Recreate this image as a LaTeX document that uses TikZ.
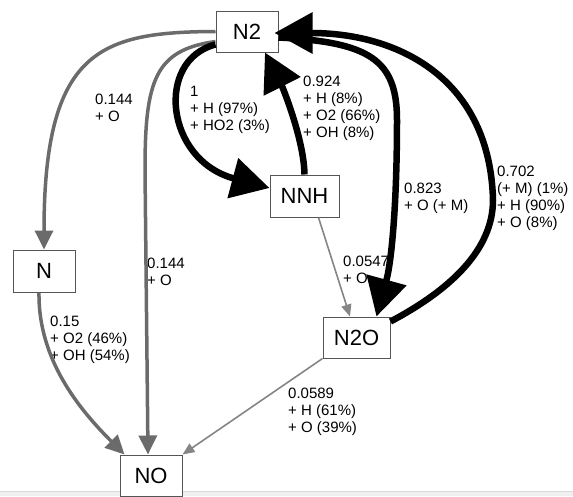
\documentclass[tikz,border=0pt]{standalone}
\usepackage{fontspec}
\setmainfont{Liberation Sans}
\usetikzlibrary{arrows.meta}
\definecolor{edgegray}{HTML}{6B6B6B}
\definecolor{thingray}{HTML}{858585}
\definecolor{boxgray}{HTML}{555555}
\definecolor{bandgray}{HTML}{F0F0F0}
\newcommand\lblstack[1]{\begin{tabular}[t]{@{}l@{}}#1\end{tabular}}
\tikzset{
  species/.style={draw=boxgray, line width=1pt, fill=white, minimum width=62pt,
    minimum height=41pt, inner sep=0pt, font=\fontsize{22}{26}\selectfont},
  lbl/.style={anchor=base west, inner sep=0pt, font=\fontsize{15}{17}\selectfont},
  major/.style={draw=black, line width=6.5pt, -{Triangle[length=38pt,width=40pt]}},
  medium/.style={draw=edgegray, line width=3.5pt, -{Triangle[length=19pt,width=18pt]}},
  minor/.style={draw=thingray, line width=1.6pt, -{Triangle[length=12pt,width=10pt]}},
}
\begin{document}
\begin{tikzpicture}[x=1pt,y=-1pt]
\useasboundingbox (0,0) rectangle (573,496);
\fill[bandgray] (0,491) rectangle (573,496);
\draw[bandgray!80!gray, line width=0.6pt] (0,491) -- (573,491);

% species
\node[species] (N2)  at (247,31.5) {N2};
\node[species, minimum width=69pt, minimum height=42pt] (NNH) at (304.5,196) {NNH};
\node[species, minimum height=42pt] (N) at (44,271) {N};
\node[species] (NO)  at (151,475.5) {NO};
\node[species, minimum width=67pt] (N2O) at (356.5,337.5) {N2O};

% labels
\node[lbl] (l1) at (95,104)  {\lblstack{0.144\\+ O}};
\node[lbl] (l2) at (190,96)  {\lblstack{1\\+ H (97\%)\\+ HO2 (3\%)}};
\node[lbl] (l3) at (303,86)  {\lblstack{0.924\\+ H (8\%)\\+ O2 (66\%)\\+ OH (8\%)}};
\node[lbl] (l4) at (404,193) {\lblstack{0.823\\+ O (+ M)}};
\node[lbl] (l5) at (497,176) {\lblstack{0.702\\(+ M) (1\%)\\+ H (90\%)\\+ O (8\%)}};
\node[lbl] (l6) at (147,268) {\lblstack{0.144\\+ O}};
\node[lbl] (l7) at (50,326)  {\lblstack{0.15\\+ O2 (46\%)\\+ OH (54\%)}};
\node[lbl] (l8) at (343,266) {\lblstack{0.0547\\+ O}};
\node[lbl] (l9) at (288,398) {\lblstack{0.0589\\+ H (61\%)\\+ O (39\%)}};

% connectors
\draw[medium] (N2.west) .. controls (100,32) and (44,50) .. (N.north);
\draw[medium] ([yshift=-10pt]N2.west) .. controls (155,50) and (145,80) .. (145,170) -- ([xshift=-3pt]NO.north);
\draw[medium] ([xshift=-5pt]N.south) .. controls (38,360) and (80,410) .. ([xshift=5pt]NO.north west);
\draw[minor] ([xshift=14pt]NNH.south) -- ([xshift=-6.5pt]N2O.north);
\draw[minor] (N2O.south west) -- (NO.north east);
\draw[major] ([yshift=-13pt]N2.west) .. controls (155,60) and (165,160) .. ([yshift=8pt]NNH.west);
\draw[major] (NNH.north) .. controls (304,140) and (283,88) .. ([xshift=18pt]N2.south);
\draw[major] ([yshift=-6pt]N2.east) .. controls (370,42) and (397,60) .. (397,120)
   .. controls (397,200) and (392,260) .. ([xshift=20pt]N2O.north);
\draw[major] ([yshift=-5pt]N2O.north east) .. controls (450,290) and (493,250) .. (493,200)
   .. controls (490,80) and (400,33) .. ([xshift=-4pt,yshift=-1.5pt]N2.east);
\end{tikzpicture}
\end{document}
